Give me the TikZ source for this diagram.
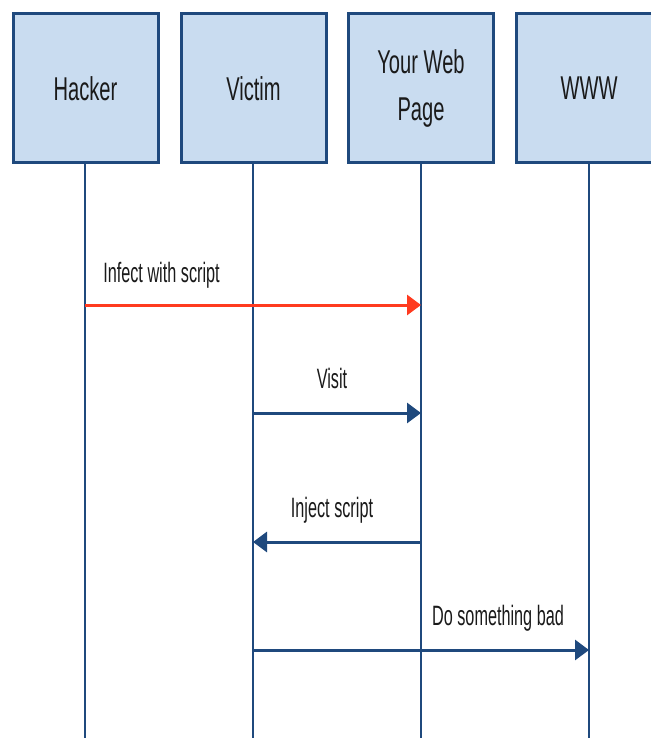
\documentclass[tikz,border=0pt]{standalone}
\usepackage{fontspec}
\setmainfont{Liberation Sans}
\newfontfamily\boxfont[FakeStretch=0.61]{Liberation Sans}
\newfontfamily\lblfont[FakeStretch=0.58]{Liberation Sans}
\usetikzlibrary{arrows.meta}
\definecolor{navy}{HTML}{1F497D}
\definecolor{boxfill}{HTML}{C9DCF0}
\definecolor{hackred}{HTML}{FF3B1F}
\definecolor{txt}{HTML}{1A1A1A}
\begin{document}
\begin{tikzpicture}[x=1pt,y=-1pt,
  boxline/.style={draw=navy, fill=boxfill, line width=3pt},
  actor/.style={boxline, minimum width=145pt, minimum height=149pt,
    inner sep=0pt, align=center, text=txt, font=\boxfont\fontsize{33}{47}\selectfont},
  actortext/.style={inner sep=0pt, align=center, text=txt, font=\boxfont\fontsize{33}{47}\selectfont},
  lifeline/.style={draw=navy, line width=2.2pt},
  msg/.style={line width=3pt, -{Triangle[length=14pt,width=20pt]}},
  lbl/.style={anchor=base, inner sep=0pt, text=txt, font=\lblfont\fontsize{28}{32}\selectfont}]
\useasboundingbox (0,0) rectangle (652,738);
\fill[white] (0,0) rectangle (652,738);
% lifeline bottoms
\coordinate (hb) at (85,738);
\coordinate (vb) at (253,738);
\coordinate (wb) at (421,738);
\coordinate (xb) at (589,738);
\draw[lifeline] (85,160) -- (hb);
\draw[lifeline] (253,160) -- (vb);
\draw[lifeline] (421,160) -- (wb);
\draw[lifeline] (589,160) -- (xb);
% actors
\node[actor] (hacker) at (85.5,88.5) {Hacker};
\node[actor] (victim) at (253.5,88.5) {Victim};
\node[actor] (web) at (421,88.5) {Your Web\\Page};
\fill[boxfill] (516.5,14) rectangle (651,163);
\draw[boxline, fill=none] (651,14) -- (516.5,14) -- (516.5,163) -- (651,163);
\node[actortext] (www) at (589,88.5) {WWW};
% message points
\coordinate (m1s) at (85,305);
\coordinate (m1e) at (421,305);
\coordinate (m2s) at (253,413);
\coordinate (m2e) at (421,413);
\coordinate (m3s) at (421,542);
\coordinate (m3e) at (253,542);
\coordinate (m4s) at (253,650);
\coordinate (m4e) at (589,650);
% messages
\draw[msg, draw=hackred, fill=hackred] (m1s) -- (m1e);
\draw[msg, draw=navy, fill=navy] (m2s) -- (m2e);
\draw[msg, draw=navy, fill=navy] (m3s) -- (m3e);
\draw[msg, draw=navy, fill=navy] (m4s) -- (m4e);
% labels
\node[lbl] (l1) at (161.5,282) {Infect with script};
\node[lbl] (l2) at (332,388) {Visit};
\node[lbl] (l3) at (332,517) {Inject script};
\node[lbl] (l4) at (498,625) {Do something bad};
\end{tikzpicture}
\end{document}
